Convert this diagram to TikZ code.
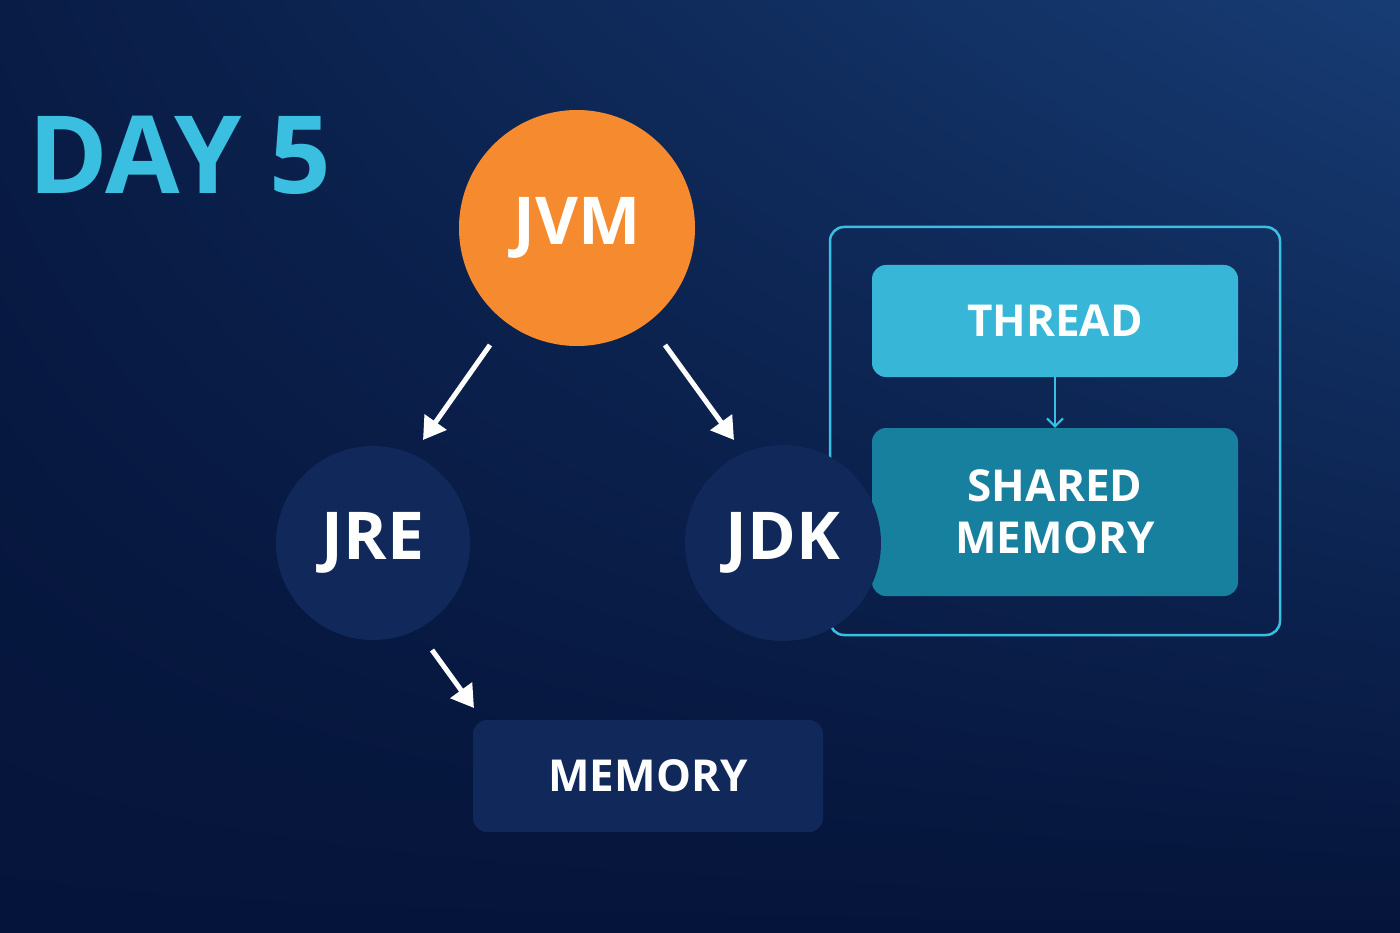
\documentclass[tikz,border=0pt]{standalone}
\usepackage{fontspec}
\setmainfont{Open Sans}
\usetikzlibrary{arrows.meta,shadings}
\definecolor{bgA}{HTML}{05143A}
\definecolor{bgB}{HTML}{173C74}
\definecolor{cyanT}{HTML}{3BBFE0}
\definecolor{orangeC}{HTML}{F58A2E}
\definecolor{navyC}{HTML}{10295A}
\definecolor{threadC}{HTML}{38B6D8}
\definecolor{sharedC}{HTML}{17809E}
\begin{document}
\begin{tikzpicture}[x=1pt,y=-1pt,
  circ/.style={circle,inner sep=0pt,text=white,font=\bfseries\fontsize{66}{66}\selectfont},
  box/.style={rounded corners=14pt,inner sep=0pt,text=white,align=center,font=\bfseries\fontsize{44}{52}\selectfont},
  warr/.style={white,line width=5pt,-{Triangle[length=22pt,width=26pt]}}]
\useasboundingbox (0,0) rectangle (1400,933);
\shade[lower left=bgA,upper left=bgA!80!bgB,upper right=bgB,lower right=bgA] (0,0) rectangle (1400,933);
\node[anchor=base west,text=cyanT,font=\bfseries\fontsize{108}{108}\selectfont,inner sep=0pt] (day) at (28,194) {DAY 5};
\node[circ,fill=orangeC,minimum size=236pt] (jvm) at (577,228) {JVM};
\node[circ,fill=navyC,minimum size=194pt] (jre) at (373,543) {JRE};
\draw[cyanT,line width=2.5pt,rounded corners=14pt] (830,227) rectangle (1280,635);
\node[box,fill=threadC,minimum width=366pt,minimum height=112pt] (thread) at (1055,321) {THREAD};
\node[box,fill=sharedC,minimum width=366pt,minimum height=168pt] (shared) at (1055,512) {SHARED\\MEMORY};
\draw[cyanT,line width=2pt,-{Straight Barb[length=8pt,width=16pt]}] (thread.south) -- (shared.north);
\node[circ,fill=navyC,minimum size=196pt] (jdk) at (783,543) {JDK};
\node[box,fill=navyC,minimum width=350pt,minimum height=112pt] (mem) at (648,776) {MEMORY};
\coordinate (a1) at (490,345); \coordinate (a2) at (423,440);
\coordinate (b1) at (665,345); \coordinate (b2) at (734,440);
\coordinate (c1) at (432,650); \coordinate (c2) at (474,708);
\draw[warr] (a1) -- (a2);
\draw[warr] (b1) -- (b2);
\draw[warr] (c1) -- (c2);
\end{tikzpicture}
\end{document}
